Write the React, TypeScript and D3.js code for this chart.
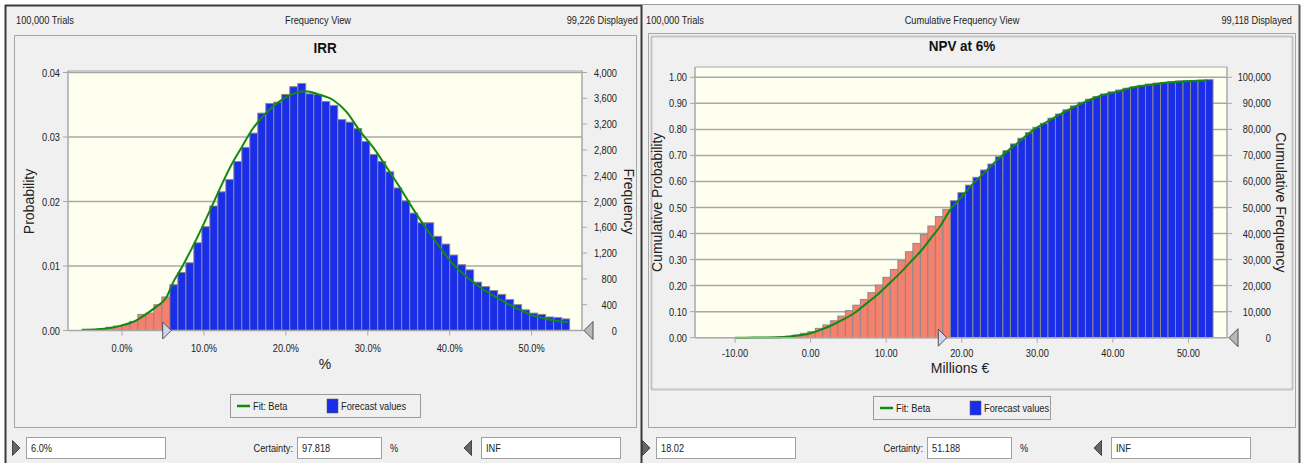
import React from "react";
import * as d3 from "d3";

// ---------------- DATA ----------------
// IRR (frequency view): probability per bin, bins in %
const irrBinStart = -4.9;
const irrBinWidth = 0.976;
const irrCutoff = 6.0;
const irrProb = [
  0.0001, 0.00015, 0.0003, 0.0005, 0.0007, 0.0009, 0.0014, 0.0025, 0.0027, 0.004, 0.0052,
  0.0071, 0.009, 0.0105, 0.0136, 0.0161, 0.0193, 0.0215, 0.0234, 0.0262, 0.0284,
  0.0306, 0.0337, 0.0352, 0.0354, 0.0366, 0.0378, 0.0383, 0.0367, 0.0366, 0.0355,
  0.0349, 0.0327, 0.0323, 0.0313, 0.0293, 0.0273, 0.0262, 0.0246, 0.0221, 0.0201,
  0.0182, 0.0167, 0.0167, 0.0146, 0.0134, 0.0117, 0.0102, 0.0094, 0.0075, 0.0068,
  0.0062, 0.0056, 0.0048, 0.004, 0.0032, 0.0027, 0.0025, 0.0021, 0.002, 0.0018,
];
const irrFitX = [
  -4.9, -3, -1.5, 0, 1.8, 3.0, 4.2, 5.4, 6.25, 7.3, 8.5, 9.7, 10.9, 12.2, 13.4, 14.6, 15.8,
  17.5, 19.1, 20.7, 22.4, 24.0, 25.8, 27.4, 29.0, 30.7, 32.3, 33.9, 35.6, 37.2, 38.8, 40.4,
  42.1, 43.7, 45.3, 47.0, 48.6, 50.2, 51.8, 53.5, 54.5,
];
const irrFitY = [
  0.0001, 0.0002, 0.0004, 0.0008, 0.0016, 0.0026, 0.0037, 0.0051, 0.0075, 0.0098, 0.0127,
  0.0158, 0.0191, 0.0227, 0.0258, 0.0284, 0.031, 0.0336, 0.0354, 0.0366, 0.0371, 0.0366,
  0.0357, 0.0339, 0.031, 0.0283, 0.0253, 0.0222, 0.0187, 0.0157, 0.0129, 0.0103, 0.0083,
  0.0067, 0.0054, 0.0042, 0.0032, 0.0023, 0.0018, 0.0014, 0.0013,
];
const irrYTicks = [0, 0.01, 0.02, 0.03, 0.04];
const irrFreqTicks = [0, 400, 800, 1200, 1600, 2000, 2400, 2800, 3200, 3600, 4000];
const irrXTicks = [0, 10, 20, 30, 40, 50];

// NPV at 6% (cumulative frequency view): cumulative probability per bin, Millions €
const npvBinStart = -10.3;
const npvBinWidth = 0.993;
const npvCutoff = 18.02;
const npvCum = [
  0.0, 0.0, 0.0005, 0.0007, 0.001, 0.002, 0.004, 0.006, 0.01, 0.017,
  0.023, 0.036, 0.049, 0.065, 0.083, 0.104, 0.125, 0.147, 0.173, 0.202,
  0.232, 0.262, 0.296, 0.33, 0.362, 0.396, 0.429, 0.465, 0.493, 0.526,
  0.557, 0.586, 0.616, 0.644, 0.667, 0.695, 0.718, 0.744, 0.766, 0.787,
  0.808, 0.823, 0.843, 0.859, 0.875, 0.89, 0.904, 0.916, 0.926, 0.936,
  0.944, 0.951, 0.958, 0.964, 0.969, 0.974, 0.978, 0.98, 0.983, 0.986,
  0.987, 0.988, 0.989, 0.991,
];
const npvFitX = [
  -10, -7.5, -5.4, -3, -1.5, 0, 1.3, 2.6, 4.2, 5.7, 7.2, 8.8, 10.3, 11.8, 13.2, 14.5, 15.8,
  17.1, 18.4, 19.8, 21.3, 22.9, 25.1, 27.3, 29.5, 31.7, 33.9, 36.1, 38.3, 40.6, 42.8, 45.0,
  47.2, 49.3, 52.4,
];
const npvFitY = [
  0, 0.0003, 0.001, 0.004, 0.009, 0.017, 0.03, 0.045, 0.068, 0.093, 0.127, 0.164, 0.205,
  0.247, 0.29, 0.33, 0.378, 0.426, 0.488, 0.535, 0.585, 0.631, 0.693, 0.746, 0.798, 0.836,
  0.872, 0.903, 0.928, 0.945, 0.962, 0.971, 0.98, 0.984, 0.988,
];
const npvYTicks = [0, 0.1, 0.2, 0.3, 0.4, 0.5, 0.6, 0.7, 0.8, 0.9, 1.0];
const npvFreqTicks = [0, 10000, 20000, 30000, 40000, 50000, 60000, 70000, 80000, 90000, 100000];
const npvXTicks = [-10, 0, 10, 20, 30, 40, 50];

// ---------------- STYLE ----------------
const SANS = "'Liberation Sans', Arial, sans-serif";
const PANEL_BG = "#f0f0f0";
const PLOT_BG = "#fffff0";
const GRID = "#a8a8a8";
const BLUE = "#1a2eea";
const RED = "#f6806e";
const GREEN = "#128a12";
const BAR_STROKE = "#8a8a8a";
const TXT = "#222";

// condensed text (the original UI font is a narrow sans)
function NT({ x, y, children, anchor = "start", size = 11, sx = 0.84, weight = "normal", fill = TXT }) {
  return (
    <text transform={`translate(${x},${y}) scale(${sx},1)`} textAnchor={anchor} fontFamily={SANS}
      fontSize={size} fontWeight={weight} fill={fill}>{children}</text>
  );
}

function RightTri({ x, y, h = 16, fill = "#d4d4e6", stroke = "#505060" }) {
  const w = h * 0.5;
  return <path d={`M${x - w},${y - h / 2} L${x},${y} L${x - w},${y + h / 2} Z`} fill={fill} stroke={stroke} strokeWidth={1} />;
}
function LeftTri({ x, y, h = 16, fill = "#b8b8b8", stroke = "#505050" }) {
  const w = h * 0.5;
  return <path d={`M${x + w},${y - h / 2} L${x},${y} L${x + w},${y + h / 2} Z`} fill={fill} stroke={stroke} strokeWidth={1} />;
}

function Legend({ x, y, w }) {
  return (
    <g>
      <rect x={x + 0.5} y={y + 0.5} width={w} height={23} fill={PANEL_BG} stroke="#9a9a9a" />
      <line x1={x + 7} x2={x + 20} y1={y + 12} y2={y + 12} stroke={GREEN} strokeWidth={2.5} />
      <NT x={x + 23} y={y + 16}>Fit: Beta</NT>
      <rect x={x + 97} y={y + 5} width={11} height={14} fill={BLUE} stroke="#555" strokeWidth={0.5} />
      <NT x={x + 111} y={y + 16}>Forecast values</NT>
    </g>
  );
}

function BottomRow({ x0, low, cert, high }) {
  const y = 437;
  return (
    <g>
      <RightTri x={x0 + 7} y={y + 11} h={15} fill="#666" stroke="#444" />
      <rect x={x0 + 13.5} y={y + 0.5} width={139} height={21} fill="#fff" stroke="#a0a0a0" />
      <NT x={x0 + 18} y={y + 15}>{low}</NT>
      <NT x={x0 + 280} y={y + 15} anchor="end">Certainty:</NT>
      <rect x={x0 + 284.5} y={y + 0.5} width={84} height={21} fill="#fff" stroke="#a0a0a0" />
      <NT x={x0 + 289} y={y + 15}>{cert}</NT>
      <NT x={x0 + 377} y={y + 15}>%</NT>
      <LeftTri x={x0 + 451} y={y + 11} h={15} fill="#666" stroke="#444" />
      <rect x={x0 + 468.5} y={y + 0.5} width={139} height={21} fill="#fff" stroke="#a0a0a0" />
      <NT x={x0 + 473} y={y + 15}>{high}</NT>
    </g>
  );
}

function IrrChart() {
  const L = 68, R = 582, T = 72.5, B = 330.5;
  const x = d3.scaleLinear().domain([-6.6, 56.15]).range([L, R]);
  const y = d3.scaleLinear().domain([0, 0.04]).range([B, T]);
  const yF = d3.scaleLinear().domain([0, 4000]).range([B, T]);
  const line = d3.line<number>().x((_, i) => x(irrFitX[i])).y((d) => y(d)).curve(d3.curveMonotoneX);
  const fmtP = d3.format(".2f");
  const fmtF = d3.format(",");
  return (
    <g>
      <rect x={L} y={T - 1.5} width={R - L} height={B - T + 1.5} fill={PLOT_BG} />
      <line x1={L} x2={R} y1={T - 1.5} y2={T - 1.5} stroke={GRID} strokeWidth={1} />
      {irrYTicks.slice(1).map((t) => (
        <line key={t} x1={L} x2={R} y1={y(t)} y2={y(t)} stroke={GRID} strokeWidth={1.5} />
      ))}
      {irrProb.map((p, i) => {
        const x0 = irrBinStart + i * irrBinWidth;
        const c = x0 + irrBinWidth / 2;
        return (
          <rect key={i} x={x(x0)} y={y(p)} width={x(x0 + irrBinWidth) - x(x0)} height={B - y(p)}
            fill={c < irrCutoff ? RED : BLUE} stroke={BAR_STROKE} strokeWidth={1} />
        );
      })}
      <path d={line(irrFitY) || ""} fill="none" stroke={GREEN} strokeWidth={2} />
      <line x1={L} x2={L} y1={T - 2} y2={B} stroke={GRID} strokeWidth={1.5} />
      <line x1={R} x2={R} y1={T - 2} y2={B} stroke={GRID} strokeWidth={1.5} />
      <line x1={L} x2={R} y1={B} y2={B} stroke={GRID} strokeWidth={1.5} />
      {irrYTicks.map((t) => (
        <g key={t}>
          <line x1={L - 5} x2={L} y1={y(t)} y2={y(t)} stroke={GRID} />
          <NT x={L - 8} y={y(t) + 4} anchor="end">{fmtP(t)}</NT>
        </g>
      ))}
      {irrFreqTicks.map((t) => (
        <g key={t}>
          <line x1={R} x2={R + 5} y1={yF(t)} y2={yF(t)} stroke={GRID} />
          <NT x={617} y={yF(t) + 4} anchor="end">{fmtF(t)}</NT>
        </g>
      ))}
      {irrXTicks.map((t) => (
        <g key={t}>
          <line x1={x(t)} x2={x(t)} y1={B} y2={B + 5} stroke={GRID} />
          <NT x={x(t)} y={B + 21} anchor="middle">{t.toFixed(1) + "%"}</NT>
        </g>
      ))}
      <RightTri x={x(irrCutoff)} y={B} h={17} />
      <LeftTri x={R + 2} y={B} h={18} />
      <text x={325} y={369} textAnchor="middle" fontFamily={SANS} fontSize={14} fill={TXT}>%</text>
      <text transform={`translate(34,${(T + B) / 2}) rotate(-90)`} textAnchor="middle" fontFamily={SANS} fontSize={14} fill={TXT}>Probability</text>
      <text transform={`translate(624,${(T + B) / 2}) rotate(90)`} textAnchor="middle" fontFamily={SANS} fontSize={14} fill={TXT}>Frequency</text>
      <NT x={325} y={53} anchor="middle" weight="bold" size={15} sx={0.9} fill="#111">IRR</NT>
    </g>
  );
}

function NpvChart() {
  const L = 695, R = 1227, T = 77.3, B = 337.7, TOP = 67;
  const x = d3.scaleLinear().domain([-15.3, 55.1]).range([L, R]);
  const y = d3.scaleLinear().domain([0, 1]).range([B, T]);
  const yF = d3.scaleLinear().domain([0, 100000]).range([B, T]);
  const line = d3.line<number>().x((_, i) => x(npvFitX[i])).y((d) => y(d)).curve(d3.curveMonotoneX);
  const fmtF = d3.format(",");
  return (
    <g>
      <rect x={L} y={TOP} width={R - L} height={B - TOP} fill={PLOT_BG} />
      <line x1={L} x2={R} y1={TOP} y2={TOP} stroke={GRID} strokeWidth={1} />
      {npvYTicks.slice(1).map((t) => (
        <line key={t} x1={L} x2={R} y1={y(t)} y2={y(t)} stroke={GRID} strokeWidth={1.5} />
      ))}
      {npvCum.map((p, i) => {
        const x0 = npvBinStart + i * npvBinWidth;
        const c = x0 + npvBinWidth / 2;
        return (
          <rect key={i} x={x(x0)} y={y(p)} width={x(x0 + npvBinWidth) - x(x0)} height={B - y(p)}
            fill={c < npvCutoff ? RED : BLUE} stroke={BAR_STROKE} strokeWidth={1} />
        );
      })}
      <path d={line(npvFitY) || ""} fill="none" stroke={GREEN} strokeWidth={2} />
      <line x1={L} x2={L} y1={TOP} y2={B} stroke={GRID} strokeWidth={1.5} />
      <line x1={R} x2={R} y1={TOP} y2={B} stroke={GRID} strokeWidth={1.5} />
      <line x1={L} x2={R} y1={B} y2={B} stroke={GRID} strokeWidth={1.5} />
      {npvYTicks.map((t) => (
        <g key={t}>
          <line x1={L - 5} x2={L} y1={y(t)} y2={y(t)} stroke={GRID} />
          <NT x={L - 8} y={y(t) + 4} anchor="end">{t.toFixed(2)}</NT>
        </g>
      ))}
      {npvFreqTicks.map((t) => (
        <g key={t}>
          <line x1={R} x2={R + 5} y1={yF(t)} y2={yF(t)} stroke={GRID} />
          <NT x={1271} y={yF(t) + 4} anchor="end">{fmtF(t)}</NT>
        </g>
      ))}
      {npvXTicks.map((t) => (
        <g key={t}>
          <line x1={x(t)} x2={x(t)} y1={B} y2={B + 5} stroke={GRID} />
          <NT x={x(t)} y={B + 19} anchor="middle">{t.toFixed(2)}</NT>
        </g>
      ))}
      <RightTri x={x(npvCutoff)} y={B} h={17} />
      <LeftTri x={R + 2} y={B} h={18} />
      <text x={960} y={373} textAnchor="middle" fontFamily={SANS} fontSize={14} fill={TXT}>Millions €</text>
      <text transform={`translate(662,${(TOP + B) / 2}) rotate(-90)`} textAnchor="middle" fontFamily={SANS} fontSize={14} fill={TXT}>Cumulative Probability</text>
      <text transform={`translate(1276,${(TOP + B) / 2}) rotate(90)`} textAnchor="middle" fontFamily={SANS} fontSize={14} fill={TXT}>Cumulative Frequency</text>
      <NT x={962} y={51} anchor="middle" weight="bold" size={15} sx={0.9} fill="#111">NPV at 6%</NT>
    </g>
  );
}

export default function App() {
  return (
    <svg width={1306} height={463} style={{ position: "absolute", left: 0, top: 0, background: "#fff" }}>
      {/* left panel */}
      <rect x={5} y={5} width={637} height={458} fill={PANEL_BG} />
      <line x1={5} x2={1300} y1={5.5} y2={5.5} stroke="#3a3a3a" strokeWidth={2} />
      <line x1={5.5} x2={5.5} y1={5} y2={463} stroke="#3a3a3a" strokeWidth={2} />
      <rect x={14.5} y={35.5} width={622} height={392} fill="none" stroke="#a6a6a6" />
      <NT x={16} y={24}>100,000 Trials</NT>
      <NT x={318} y={24} anchor="middle">Frequency View</NT>
      <NT x={638} y={24} anchor="end">99,226 Displayed</NT>
      <IrrChart />
      <Legend x={230} y={394} w={190} />
      <BottomRow x0={13} low="6.0%" cert="97.818" high="INF" />

      {/* right panel */}
      <rect x={642} y={5} width={658} height={458} fill={PANEL_BG} />
      <line x1={641.5} x2={641.5} y1={5} y2={463} stroke="#3a3a3a" strokeWidth={2} />
      <line x1={1299.5} x2={1299.5} y1={5} y2={463} stroke="#5a5a5a" strokeWidth={2} />
      <rect x={648.5} y={33.5} width={647} height={394} fill="none" stroke="#a6a6a6" />
      <rect x={651.5} y={36.5} width={641} height={353} fill="none" stroke="#9a9a9a" strokeDasharray="1 1" strokeWidth={2} />
      <NT x={646} y={24}>100,000 Trials</NT>
      <NT x={962} y={24} anchor="middle">Cumulative Frequency View</NT>
      <NT x={1292} y={24} anchor="end">99,118 Displayed</NT>
      <NpvChart />
      <Legend x={873} y={396} w={177} />
      <BottomRow x0={643} low="18.02" cert="51.188" high="INF" />
    </svg>
  );
}
